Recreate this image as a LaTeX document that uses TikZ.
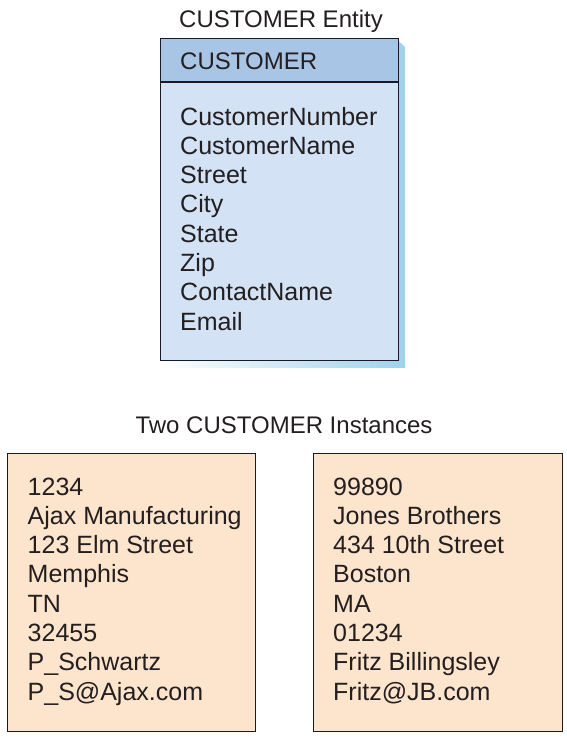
\documentclass[tikz,border=0pt]{standalone}
\usepackage{fontspec}
\setmainfont{Liberation Sans}
\definecolor{hdrblue}{HTML}{A9C5E6}
\definecolor{bodyblue}{HTML}{D3E2F4}
\definecolor{shadowblue}{HTML}{9FD2EC}
\definecolor{peach}{HTML}{FDE4CC}
\definecolor{inkline}{HTML}{1A1A26}
\definecolor{inktext}{HTML}{231F20}
\tikzset{
  boxline/.style={draw=inkline, line width=1.1pt},
  txt/.style={anchor=base west, inner sep=0pt, text=inktext, font=\fontsize{25}{29}\selectfont},
  ttl/.style={anchor=base, inner sep=0pt, text=inktext, font=\fontsize{24}{29}\selectfont}
}
\begin{document}
\begin{tikzpicture}[x=1pt,y=-1pt]
\useasboundingbox (0,0) rectangle (566,737);
% shadow of entity box
\fill[shadowblue] (397.5,40) -- (405,47) -- (405,367) -- (397.5,367) -- cycle;
\shade[left color=white, right color=shadowblue] (160,360) rectangle (405,367);
% entity box
\fill[bodyblue] (159.5,38) rectangle (397.5,360);
\fill[hdrblue] (159.5,38) rectangle (397.5,82);
\node[boxline, fill=none, minimum width=238pt, minimum height=322pt, inner sep=0pt, anchor=north west] (entity) at (159.5,38) {};
\coordinate (hl) at (159.5,82);
\coordinate (hr) at (397.5,82);
\draw[boxline] (hl) -- (hr);
\node[ttl] (etitle) at (281,27) {CUSTOMER Entity};
\node[txt, font=\fontsize{24}{29}\selectfont] (ename) at (180,69) {CUSTOMER};
\foreach \t [count=\i from 0] in {CustomerNumber,CustomerName,Street,City,State,Zip,ContactName,Email}
  \node[txt] (attr\i) at (180,125+29.3*\i) {\t};
% instances
\node[ttl] (ititle) at (284,433.5) {Two CUSTOMER Instances};
\node[boxline, fill=peach, minimum width=248.5pt, minimum height=278pt, inner sep=0pt, anchor=north west] (inst1) at (6.5,452.5) {};
\node[boxline, fill=peach, minimum width=249.5pt, minimum height=278pt, inner sep=0pt, anchor=north west] (inst2) at (312.5,452.5) {};
\foreach \t [count=\i from 0] in {1234,Ajax Manufacturing,123 Elm Street,Memphis,TN,32455,P\_Schwartz,P\_S@Ajax.com}
  \node[txt] (a\i) at (27.5,495+29.3*\i) {\t};
\foreach \t [count=\i from 0] in {99890,Jones Brothers,434 10th Street,Boston,MA,01234,Fritz Billingsley,Fritz@JB.com}
  \node[txt] (b\i) at (333,495+29.3*\i) {\t};
\end{tikzpicture}
\end{document}
